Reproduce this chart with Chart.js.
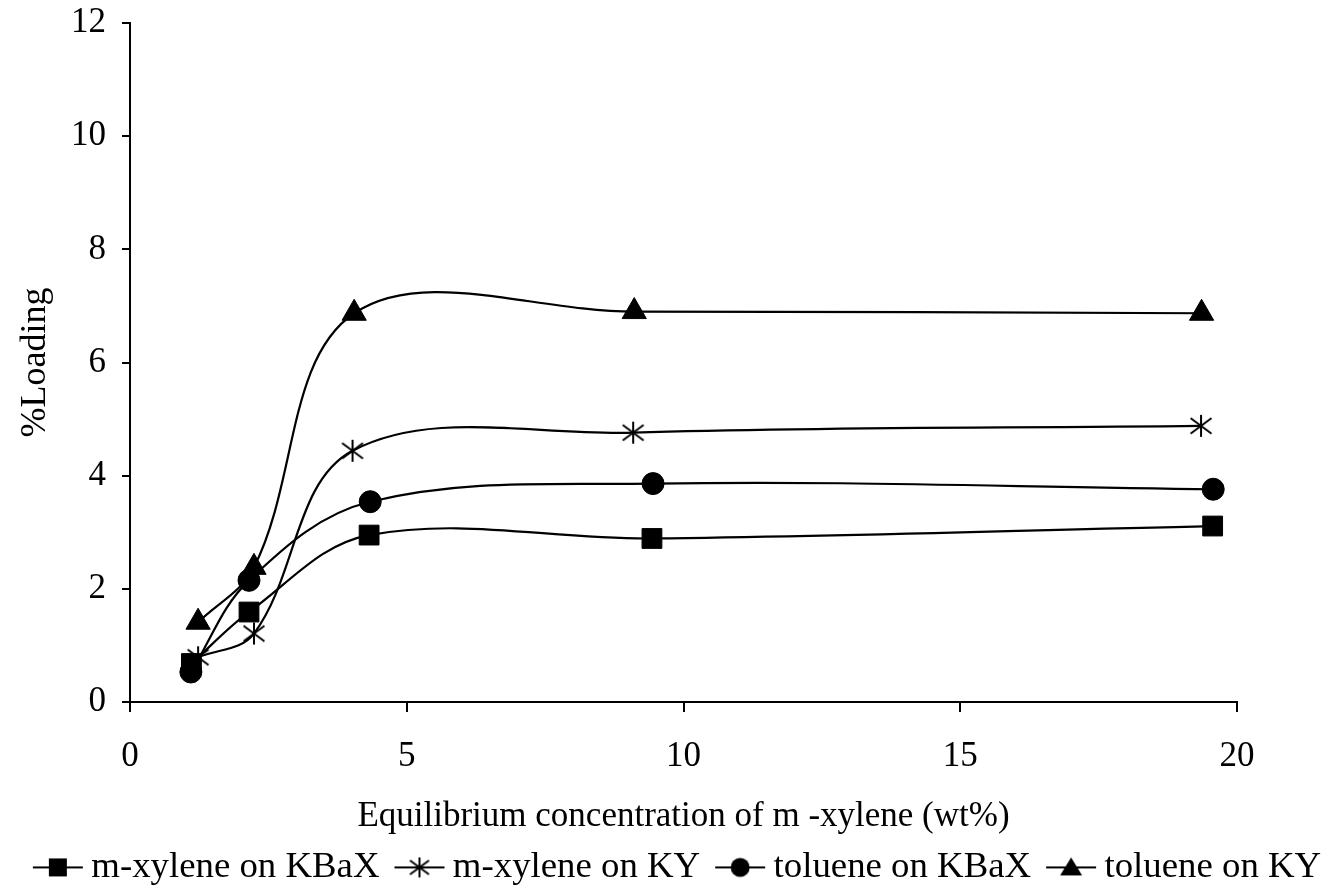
<!DOCTYPE html>
<html>
<head>
<meta charset="utf-8">
<script src="https://cdn.jsdelivr.net/npm/chart.js@4.4.1/dist/chart.umd.min.js"></script>
<style>
  html, body { margin: 0; padding: 0; background: #fff; }
  #wrap { width: 1332px; height: 887px; position: relative; }
</style>
</head>
<body>
<div id="wrap"><canvas id="loadChart"></canvas></div>
<script>
// values
var seriesNames = ["m-xylene on KBaX", "m-xylene on KY", "toluene on KBaX", "toluene on KY"];
var mxKBaX_x = [1.11, 2.15, 4.32, 9.43, 19.56];
var mxKBaX_y = [0.68, 1.59, 2.95, 2.89, 3.11];
var mxKY_x = [1.23, 2.24, 4.02, 9.09, 19.35];
var mxKY_y = [0.79, 1.21, 4.44, 4.76, 4.88];
var tolKBaX_x = [1.10, 2.15, 4.34, 9.45, 19.57];
var tolKBaX_y = [0.53, 2.15, 3.54, 3.86, 3.76];
var tolKY_x = [1.23, 2.24, 4.05, 9.11, 19.36];
var tolKY_y = [1.41, 2.38, 6.87, 6.90, 6.87];
var xTicks = [0, 5, 10, 15, 20];
var yTicks = [0, 2, 4, 6, 8, 10, 12];

function pts(xs, ys) {
  return xs.map(function (x, i) { return { x: x, y: ys[i] }; });
}

// asterisk marker: vertical stroke plus an X
function starImage(size, lw) {
  var c = document.createElement("canvas");
  c.width = size; c.height = size;
  var g = c.getContext("2d");
  var m = size / 2, r = size / 2 - 1;
  g.strokeStyle = "#000";
  g.lineWidth = lw;
  g.beginPath();
  g.moveTo(m, m - r); g.lineTo(m, m + r);
  g.moveTo(m - r * 0.95, m - r * 0.7); g.lineTo(m + r * 0.95, m + r * 0.7);
  g.moveTo(m - r * 0.95, m + r * 0.7); g.lineTo(m + r * 0.95, m - r * 0.7);
  g.stroke();
  return c;
}

// legend icon: short line with the marker on it, shifted right so it sits close to its text
var iconW = 52, iconShift = 11;
function legendIcon(kind) {
  var w = iconW + 2 * iconShift, h = 26;
  var c = document.createElement("canvas");
  c.width = w; c.height = h;
  var g = c.getContext("2d");
  var m = h / 2, x0 = 2 * iconShift, cx = x0 + iconW / 2;
  g.strokeStyle = "#000"; g.fillStyle = "#000"; g.lineWidth = 2;
  g.beginPath(); g.moveTo(x0 + 1, m); g.lineTo(w - 1, m); g.stroke();
  g.beginPath();
  if (kind == "rect") {
    g.fillRect(cx - 9, m - 9, 18, 18);
  } else if (kind == "circle") {
    g.arc(cx, m, 9.5, 0, Math.PI * 2); g.fill();
  } else if (kind == "triangle") {
    g.moveTo(cx, m - 10); g.lineTo(cx + 11, m + 8); g.lineTo(cx - 11, m + 8); g.closePath(); g.fill();
  } else {
    g.drawImage(starImage(22, 2), cx - 11, m - 11);
  }
  return c;
}

var icons = [legendIcon("rect"), legendIcon("star"), legendIcon("circle"), legendIcon("triangle")];
var serif = "'Liberation Serif', 'Times New Roman', serif";

function makeSet(i, xs, ys, style, radius) {
  return {
    label: seriesNames[i],
    data: pts(xs, ys),
    showLine: true,
    borderColor: "#000",
    backgroundColor: "#000",
    borderWidth: 2.2,
    tension: 0.36,
    pointStyle: style,
    pointRadius: radius,
    pointHoverRadius: radius,
    pointBorderColor: "#000",
    pointBackgroundColor: "#000",
    pointBorderWidth: 1
  };
}

var ctx = document.getElementById("loadChart").getContext("2d");
var loadChart = new Chart(ctx, {
  type: "scatter",
  data: {
    datasets: [
      makeSet(0, mxKBaX_x, mxKBaX_y, "rect", 14),
      makeSet(1, mxKY_x, mxKY_y, starImage(24, 2), 12),
      makeSet(2, tolKBaX_x, tolKBaX_y, "circle", 11),
      makeSet(3, tolKY_x, tolKY_y, "triangle", 14)
    ]
  },
  options: {
    responsive: true,
    maintainAspectRatio: false,
    animation: false,
    layout: { padding: { left: 10, right: 0, top: 23, bottom: 0 } },
    plugins: {
      tooltip: { enabled: false },
      legend: {
        position: "bottom",
        maxHeight: 41,
        labels: {
          color: "#000",
          font: { family: serif, size: 36.8 },
          usePointStyle: true,
          pointStyleWidth: iconW,
          padding: 3,
          generateLabels: function (chart) {
            var items = Chart.defaults.plugins.legend.labels.generateLabels(chart);
            items.forEach(function (it, i) { it.pointStyle = icons[i]; });
            return items;
          }
        }
      }
    },
    scales: {
      x: {
        type: "linear",
        min: 0,
        max: 20,
        afterBuildTicks: function (scale) {
          scale.ticks = xTicks.map(function (v) { return { value: v }; });
        },
        afterFit: function (scale) {
          scale.height = 144;
          scale.paddingLeft = 0; scale.paddingRight = 0;
        },
        border: { display: true, color: "#000", width: 2 },
        grid: { drawOnChartArea: false, drawTicks: true, tickLength: 10, color: "#000", lineWidth: 2 },
        ticks: { color: "#000", font: { family: serif, size: 35 }, padding: 24, maxRotation: 0 },
        title: {
          display: true,
          text: "Equilibrium concentration of m -xylene (wt%)",
          color: "#000",
          font: { family: serif, size: 35 },
          padding: { top: 0, bottom: 8 }
        }
      },
      y: {
        min: 0,
        max: 12,
        afterBuildTicks: function (scale) {
          scale.ticks = yTicks.map(function (v) { return { value: v }; });
        },
        afterFit: function (scale) {
          scale.width = 120;
          scale.paddingTop = 0; scale.paddingBottom = 0;
        },
        border: { display: true, color: "#000", width: 2 },
        grid: { drawOnChartArea: false, drawTicks: true, tickLength: 8, color: "#000", lineWidth: 2 },
        ticks: { color: "#000", font: { family: serif, size: 35 }, padding: 16 },
        title: {
          display: true,
          text: "%Loading",
          color: "#000",
          font: { family: serif, size: 36 },
          padding: { top: 4, bottom: 0 }
        }
      },
      // empty right-hand strip so the plot ends where the original does
      yRight: {
        position: "right",
        min: 0,
        max: 12,
        display: true,
        afterFit: function (scale) {
          scale.width = 95;
          scale.paddingTop = 0; scale.paddingBottom = 0;
        },
        border: { display: false },
        grid: { display: false },
        ticks: { display: false }
      }
    }
  }
});
</script>
</body>
</html>
